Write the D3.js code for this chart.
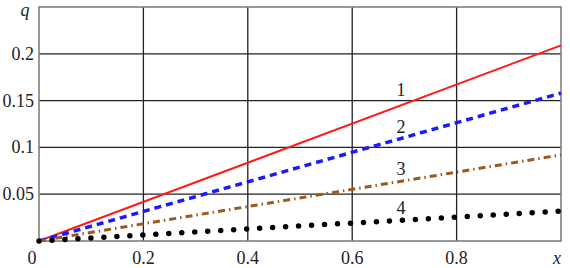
<!DOCTYPE html>
<html>
<head>
<meta charset="utf-8">
<script src="https://cdn.jsdelivr.net/npm/d3@7"></script>
<style>
  body { margin: 0; background: #fff; }
</style>
</head>
<body>
<div id="chart"></div>
<script>
// data
var xs = [0, 1];
var curve1 = [0, 0.209];
var curve2 = [0, 0.158];
var curve3 = [0, 0.092];
var curve4 = [0, 0.032];
var curveNames = ["1", "2", "3", "4"];
var xTicks = [0.2, 0.4, 0.6, 0.8];
var yTicks = [0.05, 0.1, 0.15, 0.2];

var width = 570, height = 268;
var margin = {top: 7, right: 9, bottom: 27, left: 39};
var serif = "'Liberation Serif', 'Times New Roman', 'DejaVu Serif', serif";

var svg = d3.select("#chart")
  .append("svg")
    .attr("width", width)
    .attr("height", height)
    .attr("font-family", serif)
    .attr("font-size", 18)
    .attr("fill", "#222");

var x = d3.scaleLinear()
  .domain([0, 1])
  .range([margin.left, width - margin.right]);

var y = d3.scaleLinear()
  .domain([0, 0.25])
  .range([height - margin.bottom, margin.top]);

// grid
svg.append("g")
  .selectAll("line")
  .data(xTicks)
  .enter().append("line")
    .attr("x1", function(d) { return x(d); })
    .attr("x2", function(d) { return x(d); })
    .attr("y1", y(0))
    .attr("y2", y(0.25))
    .attr("stroke", "#222")
    .attr("stroke-width", 1.3);

svg.append("g")
  .selectAll("line")
  .data(yTicks)
  .enter().append("line")
    .attr("x1", x(0))
    .attr("x2", x(1))
    .attr("y1", function(d) { return y(d); })
    .attr("y2", function(d) { return y(d); })
    .attr("stroke", "#222")
    .attr("stroke-width", 1.3);

// frame
svg.append("rect")
  .attr("x", x(0))
  .attr("y", y(0.25))
  .attr("width", x(1) - x(0))
  .attr("height", y(0) - y(0.25))
  .attr("fill", "none")
  .attr("stroke", "#808080")
  .attr("stroke-width", 1.6);

// tick labels
svg.append("g")
  .selectAll("text")
  .data(yTicks)
  .enter().append("text")
    .attr("x", 34)
    .attr("y", function(d) { return y(d) + 6; })
    .attr("text-anchor", "end")
    .text(function(d) { return String(d); });

svg.append("g")
  .selectAll("text")
  .data(xTicks)
  .enter().append("text")
    .attr("x", function(d) { return x(d); })
    .attr("y", 264)
    .attr("text-anchor", "middle")
    .text(function(d) { return String(d); });

svg.append("text")
  .attr("x", 32)
  .attr("y", 264)
  .attr("text-anchor", "middle")
  .text("0");

svg.append("text")
  .attr("x", x(1) - 4)
  .attr("y", 264)
  .attr("text-anchor", "middle")
  .attr("font-style", "italic")
  .text("x");

svg.append("text")
  .attr("x", 25)
  .attr("y", 16)
  .attr("text-anchor", "middle")
  .attr("font-style", "italic")
  .text("q");

// curves
var line = d3.line()
  .x(function(d) { return x(d[0]); })
  .y(function(d) { return y(d[1]); });

var styles = [
  {values: curve1, color: "#ff1a1a", width: 2, dash: null, cap: "butt"},
  {values: curve2, color: "#1a1aff", width: 3.5, dash: "7,5", cap: "butt"},
  {values: curve3, color: "#9a5a1e", width: 3, dash: "7,4,1.5,4", cap: "butt"},
  {values: curve4, color: "#000", width: 5.5, dash: "0,13", cap: "round"}
];

styles.forEach(function(s) {
  var pts = xs.map(function(v, i) { return [v, s.values[i]]; });
  svg.append("path")
    .datum(pts)
    .attr("d", line)
    .attr("fill", "none")
    .attr("stroke", s.color)
    .attr("stroke-width", s.width)
    .attr("stroke-dasharray", s.dash)
    .attr("stroke-linecap", s.cap);
});

// curve numbers
var labelY = [96, 133, 175, 214];
svg.append("g")
  .selectAll("text")
  .data(curveNames)
  .enter().append("text")
    .attr("x", 401)
    .attr("y", function(d, i) { return labelY[i]; })
    .attr("text-anchor", "middle")
    .text(function(d) { return d; });
</script>
</body>
</html>
